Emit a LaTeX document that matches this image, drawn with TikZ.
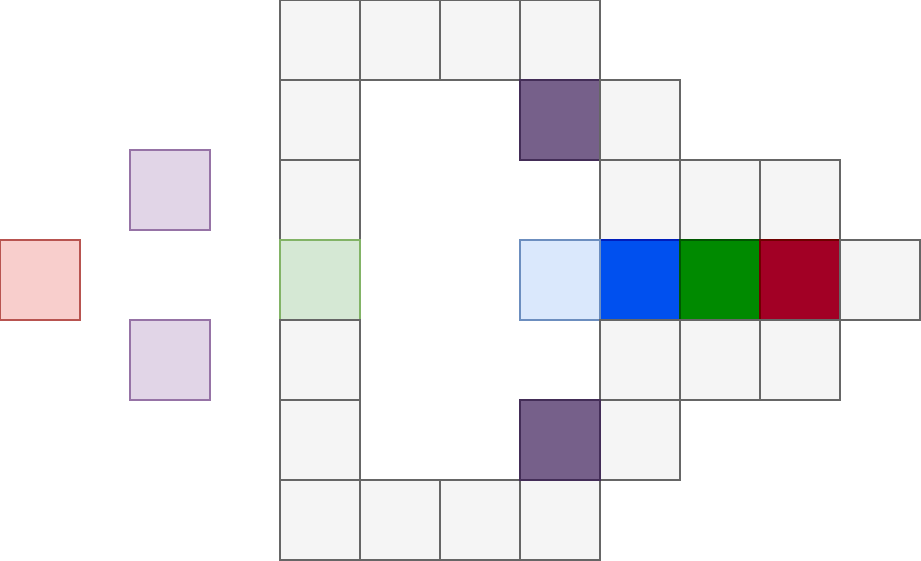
\documentclass[tikz,border=0pt]{standalone}
\usepackage{tikz}
\usetikzlibrary{positioning}

\definecolor{cellfill}{HTML}{F5F5F5}
\definecolor{celldraw}{HTML}{666666}
\definecolor{plumfill}{HTML}{76608A}
\definecolor{plumdraw}{HTML}{432D57}
\definecolor{lilacfill}{HTML}{E1D5E7}
\definecolor{lilacdraw}{HTML}{9673A6}
\definecolor{rosefill}{HTML}{F8CECC}
\definecolor{rosedraw}{HTML}{B85450}
\definecolor{mintfill}{HTML}{D5E8D4}
\definecolor{mintdraw}{HTML}{82B366}
\definecolor{skyfill}{HTML}{DAE8FC}
\definecolor{skydraw}{HTML}{6C8EBF}
\definecolor{bluefill}{HTML}{0050EF}
\definecolor{bluedraw}{HTML}{001DBC}
\definecolor{greenfill}{HTML}{008A00}
\definecolor{greendraw}{HTML}{005700}
\definecolor{redfill}{HTML}{A20025}
\definecolor{reddraw}{HTML}{6F0000}

\begin{document}
\begin{tikzpicture}[node distance=1cm,on grid,
  box/.style={rectangle,draw,line width=0.4pt,minimum size=1cm,inner sep=0pt,outer sep=0pt},
  cell/.style={box,fill=cellfill,draw=celldraw},
  plum/.style={box,fill=plumfill,draw=plumdraw},
  lilac/.style={box,fill=lilacfill,draw=lilacdraw},
  rose/.style={box,fill=rosefill,draw=rosedraw},
  mint/.style={box,fill=mintfill,draw=mintdraw},
  sky/.style={box,fill=skyfill,draw=skydraw},
  blueb/.style={box,fill=bluefill,draw=bluedraw},
  greenb/.style={box,fill=greenfill,draw=greendraw},
  redb/.style={box,fill=redfill,draw=reddraw}]
  \useasboundingbox (0,0) rectangle (11.5125,-7.0125);

  % left column of the frame
  \node[cell] (r0c0) at (4,-0.5) {};
  \node[cell] (r1c0) [below = of r0c0] {};
  \node[cell] (r2c0) [below = of r1c0] {};
  \node[mint] (r3c0) [below = of r2c0] {};
  \node[cell] (r4c0) [below = of r3c0] {};
  \node[cell] (r5c0) [below = of r4c0] {};
  \node[cell] (r6c0) [below = of r5c0] {};

  % top and bottom rows
  \node[cell] (r0c1) [right = of r0c0] {};
  \node[cell] (r0c2) [right = of r0c1] {};
  \node[cell] (r0c3) [right = of r0c2] {};
  \node[cell] (r6c1) [right = of r6c0] {};
  \node[cell] (r6c2) [right = of r6c1] {};
  \node[cell] (r6c3) [right = of r6c2] {};

  % right part
  \node[plum] (r1c3) [below = of r0c3] {};
  \node[cell] (r1c4) [right = of r1c3] {};
  \node[cell] (r2c4) [below = of r1c4] {};
  \node[cell] (r2c5) [right = of r2c4] {};
  \node[cell] (r2c6) [right = of r2c5] {};
  \node[blueb] (r3c4) [below = of r2c4] {};
  \node[sky] (r3c3) [left = of r3c4] {};
  \node[greenb] (r3c5) [right = of r3c4] {};
  \node[redb] (r3c6) [right = of r3c5] {};
  \node[cell] (r3c7) [right = of r3c6] {};
  \node[cell] (r4c4) [below = of r3c4] {};
  \node[cell] (r4c5) [right = of r4c4] {};
  \node[cell] (r4c6) [right = of r4c5] {};
  \node[cell] (r5c4) [below = of r4c4] {};
  \node[plum] (r5c3) [above = of r6c3] {};

  % loose squares on the left
  \node[rose] (start) at (0.5,-3.5) {};
  \node[lilac] (upper) at (2.125,-2.375) {};
  \node[lilac] (lower) at (2.125,-4.5) {};
\end{tikzpicture}
\end{document}
